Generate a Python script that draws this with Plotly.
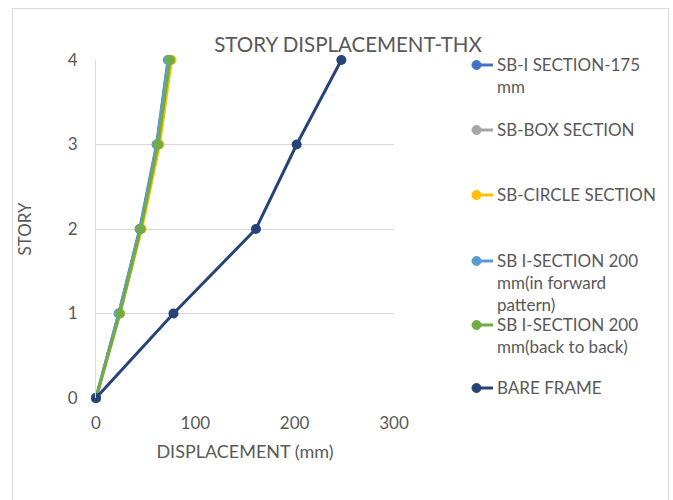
import plotly.graph_objects as go

# Story levels and peak displacements (mm) from the time-history analysis (X direction)
stories = [0, 1, 2, 3, 4]
sb_i_175 = [0, 23, 44, 61, 72.5]
sb_box = [0, 23, 45, 61.5, 73]
sb_circle = [0, 24, 46, 64, 76]
sb_i_200_forward = [0, 23, 44.5, 61.5, 73]
sb_i_200_back = [0, 24, 45, 62.5, 74.5]
bare_frame = [0, 78, 161, 202, 247]

series_names = [
    "SB-I SECTION-175<br>mm",
    "SB-BOX SECTION",
    "SB-CIRCLE SECTION",
    "SB I-SECTION 200<br>mm(in forward<br>pattern)",
    "SB I-SECTION 200<br>mm(back to back)",
    "BARE FRAME",
]
series_values = [sb_i_175, sb_box, sb_circle, sb_i_200_forward, sb_i_200_back, bare_frame]
series_colors = ["#4472C4", "#A5A5A5", "#FFC000", "#5B9BD5", "#70AD47", "#264478"]

x_ticks = [0, 100, 200, 300]
y_ticks = [0, 1, 2, 3, 4]

W, H = 673, 500
L, R, T, B = 96, 279, 60, 102
pw, ph = W - L - R, H - T - B

FONT = "Lato"
GREY = "#595959"


def px(x):
    return (x - L) / pw


def py(y):
    return (H - B - y) / ph


fig = go.Figure()
for name, vals, col in zip(series_names, series_values, series_colors):
    fig.add_trace(go.Scatter(
        x=vals, y=stories, mode="lines+markers", name=name,
        line=dict(color=col, width=3),
        marker=dict(color=col, size=10),
        cliponaxis=False,
        showlegend=False,
    ))

shapes = []
annotations = []

# chart-area border (left, top, right)
for x0, y0, x1, y1 in [(12.5, 8.5, 12.5, 510), (12.5, 8.5, 668.5, 8.5), (668.5, 8.5, 668.5, 510)]:
    shapes.append(dict(type="line", xref="paper", yref="paper",
                       x0=px(x0), y0=py(y0), x1=px(x1), y1=py(y1),
                       line=dict(color="#D9D9D9", width=1)))

# legend entries drawn beside the plot
legend_y = [65, 130, 195, 261, 325, 388]
for name, col, ly in zip(series_names, series_colors, legend_y):
    shapes.append(dict(type="line", xref="paper", yref="paper",
                       x0=px(472), y0=py(ly), x1=px(493), y1=py(ly),
                       line=dict(color=col, width=3)))
    shapes.append(dict(type="circle", xref="paper", yref="paper",
                       x0=px(472), y0=py(ly - 4.5), x1=px(481), y1=py(ly + 4.5),
                       fillcolor=col, line=dict(color=col, width=1)))
    annotations.append(dict(
        text=name, xref="paper", yref="paper", x=px(495), y=py(ly - 13),
        xanchor="left", yanchor="top", align="left", showarrow=False,
        font=dict(family=FONT, size=17, color=GREY),
    ))

fig.update_layout(
    width=W, height=H,
    margin=dict(l=L, r=R, t=T, b=B, autoexpand=False),
    paper_bgcolor="white", plot_bgcolor="white",
    font=dict(family=FONT, size=17, color=GREY),
    title=dict(text="STORY DISPLACEMENT-THX", x=348 / W, xanchor="center",
               y=1 - 45 / H, yanchor="middle",
               font=dict(family=FONT, size=20.5, color=GREY)),
    xaxis=dict(range=[0, 300], tickvals=x_ticks, showgrid=False, zeroline=False,
               showline=False, ticks="", ticklabelstandoff=13,
               tickfont=dict(size=17, color=GREY),
               title=dict(text="DISPLACEMENT (mm)", standoff=13,
                          font=dict(size=18, color=GREY))),
    yaxis=dict(range=[0, 4], tickvals=y_ticks, showgrid=True, gridcolor="#D9D9D9",
               gridwidth=1, zeroline=False, showline=True, linecolor="#D9D9D9",
               ticks="", ticklen=0, ticklabelstandoff=14,
               tickfont=dict(size=17, color=GREY),
               title=dict(text="STORY", standoff=31, font=dict(size=17, color=GREY))),
    shapes=shapes,
    annotations=annotations,
    showlegend=False,
)

fig.write_html("out.html")
